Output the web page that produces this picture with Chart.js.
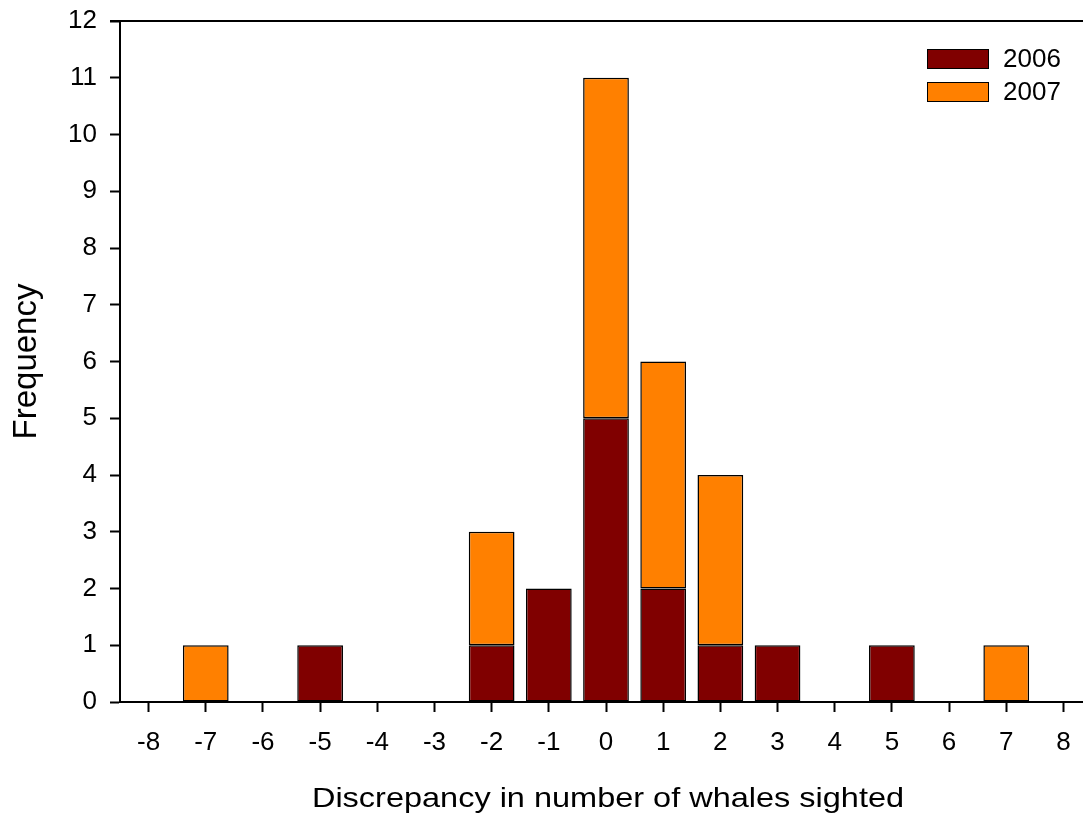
<!DOCTYPE html>
<html>
<head>
<meta charset="utf-8">
<script src="https://cdn.jsdelivr.net/npm/chart.js@4"></script>
<style>
html,body{margin:0;padding:0;background:#fff;overflow:hidden;}
#wrap{width:1092px;height:816px;}
</style>
</head>
<body>
<div id="wrap"><canvas id="c" width="1092" height="816"></canvas></div>
<script>
const categories = ['-8','-7','-6','-5','-4','-3','-2','-1','0','1','2','3','4','5','6','7','8'];
const values2006 = [0,0,0,1,0,0,1,2,5,2,1,1,0,1,0,0,0];
const values2007 = [0,1,0,0,0,0,2,0,6,4,3,0,0,0,0,1,0];
const seriesNames = ['2006','2007'];
const yMin = 0, yMax = 12, yStep = 1;
const xTitle = 'Discrepancy in number of whales sighted';
const yTitle = 'Frequency';

const FONT = '"Liberation Sans", Arial, sans-serif';

const frame = {
  id: 'frame',
  afterDraw(chart) {
    const ctx = chart.ctx, a = chart.chartArea;
    ctx.save();
    ctx.strokeStyle = '#000';
    ctx.lineWidth = 2;
    ctx.beginPath();
    ctx.moveTo(a.left - 10, Math.round(a.top));
    ctx.lineTo(a.right, Math.round(a.top));
    ctx.stroke();
    // legend
    const L = chart.options.plugins.boxLegend;
    chart.data.datasets.forEach((ds, i) => {
      const y = L.y + i * L.gap;
      ctx.fillStyle = ds.backgroundColor;
      ctx.fillRect(L.x, y, L.w, L.h);
      ctx.lineWidth = 1;
      ctx.strokeStyle = '#000';
      ctx.strokeRect(L.x + 0.5, y + 0.5, L.w - 1, L.h - 1);
      ctx.fillStyle = '#000';
      ctx.font = L.font;
      ctx.textBaseline = 'middle';
      ctx.textAlign = 'left';
      ctx.fillText(ds.label, L.x + L.w + L.pad, y + L.h / 2 + 1);
    });
    // x axis title (slightly wide lettering as in the original)
    const T = chart.options.plugins.xTitleBox;
    ctx.translate((a.left + a.right) / 2 + T.dx, T.baseline);
    ctx.scale(T.stretch, 1);
    ctx.font = T.font;
    ctx.fillStyle = '#000';
    ctx.textAlign = 'center';
    ctx.textBaseline = 'alphabetic';
    ctx.fillText(xTitle, 0, 0);
    ctx.restore();
  }
};

const bw = c => (c.raw ? 1.5 : 0);

new Chart(document.getElementById('c'), {
  type: 'bar',
  data: {
    labels: categories,
    datasets: [
      {label: seriesNames[0], data: values2006, backgroundColor: '#800000', borderColor: '#000', borderWidth: bw, borderSkipped: false},
      {label: seriesNames[1], data: values2007, backgroundColor: '#FF8000', borderColor: '#000', borderWidth: bw, borderSkipped: false}
    ]
  },
  options: {
    responsive: false,
    animation: false,
    devicePixelRatio: 1,
    layout: {padding: {left: 0, top: 21, right: 0, bottom: 0}},
    datasets: {bar: {barPercentage: 0.8, categoryPercentage: 1}},
    plugins: {
      legend: {display: false},
      tooltip: {enabled: false},
      boxLegend: {x: 927, y: 49, w: 62, h: 20, gap: 33, pad: 14, font: '26px ' + FONT},
      xTitleBox: {font: '28px ' + FONT, stretch: 1.16, baseline: 807, dx: 2}
    },
    scales: {
      x: {
        stacked: true,
        offset: true,
        afterFit(s) { s.height = 114; },
        grid: {display: true, offset: false, drawOnChartArea: false, drawTicks: true, tickLength: 10, tickWidth: 2, tickColor: '#000'},
        border: {display: true, color: '#000', width: 2},
        ticks: {color: '#000', font: {family: FONT, size: 26}, padding: 15, maxRotation: 0, autoSkip: false},
        title: {display: false}
      },
      y: {
        stacked: true,
        min: yMin, max: yMax,
        afterFit(s) { s.width = 120; },
        grid: {display: true, drawOnChartArea: false, drawTicks: true, tickLength: 10, tickWidth: 2, tickColor: '#000'},
        border: {display: true, color: '#000', width: 2},
        ticks: {stepSize: yStep, color: '#000', font: {family: FONT, size: 26, lineHeight: 0.6}, padding: 13},
        title: {display: true, text: yTitle, color: '#000', font: {family: FONT, size: 33}, padding: {top: 7, bottom: 0}}
      }
    }
  },
  plugins: [frame]
});
</script>
</body>
</html>
